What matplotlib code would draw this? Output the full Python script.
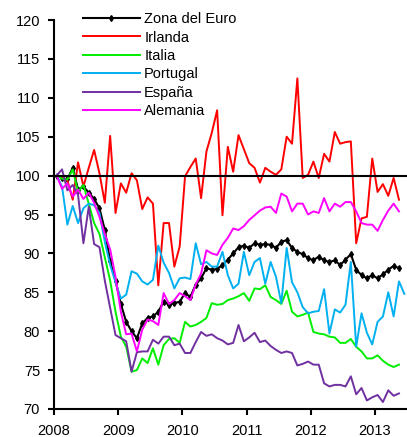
import numpy as np
import matplotlib
matplotlib.use("Agg")
import matplotlib.pyplot as plt

plt.rcParams["font.family"] = ["Liberation Sans", "DejaVu Sans"]

# ============================================================
# DATOS (índice, enero 2008 = 100, mensual)
# ============================================================
zona_euro = [100, 99.7, 99.5, 101, 98.2, 98.6, 97.8, 97.0, 95.8, 93.0,
             89.0, 86.5, 83.5, 81.2, 80.0, 79.1, 81.0, 81.7, 81.9, 82.5,
             83.8, 83.4, 83.6, 83.8, 84.9, 84.4, 86.0, 86.8, 88.1, 87.9,
             88.0, 88.5, 89.2, 90.0, 90.8, 91.0, 90.7, 91.3, 91.1, 91.2,
             91.1, 90.7, 91.5, 91.7, 90.7, 90.2, 89.9, 89.4, 89.1, 89.6,
             89.1, 88.9, 89.1, 88.5, 89.2, 89.9, 87.9, 87.2, 86.8, 87.2,
             86.8, 87.3, 87.9, 88.4, 88.1]

irlanda = [100, 99.7, 99.4, 96.9, 101.7, 98.6, 101.0, 103.3, 100.3, 96.5,
           105.1, 95.2, 99.0, 97.8, 100.3, 99.4, 95.7, 97.2, 96.4, 85.9,
           93.9, 93.9, 88.3, 90.9, 99.9, 101.1, 102.2, 97.1, 103.1, 105.5,
           108.4, 94.9, 103.7, 100.5, 105.2, 103.4, 101.6, 101.0, 99.1, 101.0,
           100.5, 100.1, 100.8, 105.0, 104.1, 112.5, 99.7, 100.1, 101.8, 99.7,
           102.8, 101.8, 105.6, 104.1, 104.3, 104.4, 91.3, 94.5, 94.7, 102.2,
           97.9, 98.9, 97.4, 99.7, 96.9]

italia = [100, 99.6, 99.5, 100.8, 97.9, 98.8, 96.4, 93.9, 92.5, 89.5,
          86.5, 82.5, 79.3, 78.0, 74.8, 75.0, 76.5, 75.9, 77.8, 75.7,
          78.2, 79.0, 79.1, 78.5, 81.2, 80.6, 80.8, 81.2, 81.7, 83.6,
          83.4, 83.5, 84.0, 84.2, 84.5, 84.9, 83.9, 85.5, 85.4, 85.9,
          84.4, 84.0, 83.5, 85.2, 82.5, 81.9, 82.1, 82.4, 79.9, 79.7,
          79.6, 79.3, 79.2, 78.5, 78.5, 79.0, 78.0, 77.4, 76.5, 76.5,
          76.9, 76.2, 75.7, 75.4, 75.7]

portugal = [100, 98.6, 93.7, 96.1, 93.9, 95.8, 96.4, 96.2, 95.2, 91.5,
            88.5, 86.3, 84.2, 84.7, 87.7, 87.4, 86.4, 86.0, 86.6, 91.0,
            88.8, 87.5, 85.5, 86.8, 86.9, 86.7, 91.3, 88.6, 88.9, 88.3,
            88.3, 90.2, 87.2, 85.5, 86.1, 90.2, 87.2, 88.9, 89.4, 86.1,
            88.9, 87.0, 83.6, 90.7, 86.3, 85.0, 83.1, 82.3, 82.5, 82.6,
            85.4, 79.7, 82.8, 82.4, 83.4, 88.9, 78.0, 82.3, 79.8, 78.3,
            81.2, 81.9, 85.0, 81.9, 86.4, 84.8]

espana = [100, 100.8, 98.1, 98.8, 97.5, 91.3, 96.0, 91.2, 90.8, 86.5,
          83.0, 79.5, 79.1, 78.7, 74.8, 77.3, 77.4, 77.4, 78.9, 78.4,
          79.3, 79.3, 78.2, 78.4, 77.2, 77.2, 78.6, 79.9, 79.4, 79.6,
          79.1, 78.8, 78.3, 78.5, 80.8, 78.7, 79.2, 79.8, 78.6, 78.8,
          78.1, 77.6, 77.2, 77.4, 77.2, 75.6, 75.8, 76.1, 75.7, 75.7,
          73.3, 72.9, 73.1, 73.1, 72.9, 74.2, 71.9, 72.7, 71.1, 71.5,
          71.8, 70.9, 72.4, 71.7, 72.0]

alemania = [100, 98.3, 99.0, 97.3, 98.2, 97.0, 97.8, 96.5, 94.7, 92.5,
            90.5, 87.0, 82.5, 79.6, 79.7, 77.4, 80.2, 81.5, 81.3, 80.8,
            84.9, 83.5, 84.0, 84.9, 84.5, 84.0, 86.0, 87.4, 90.4, 90.0,
            89.8, 91.1, 92.0, 93.2, 93.0, 93.5, 94.3, 94.9, 95.5, 95.9,
            96.0, 95.2, 97.7, 97.3, 95.4, 96.4, 96.4, 95.0, 95.4, 95.2,
            97.1, 95.4, 96.4, 96.0, 96.6, 96.6, 95.4, 93.9, 93.7, 93.7,
            92.9, 94.3, 95.5, 96.4, 95.4]

series = [
    ("Zona del Euro", zona_euro, "black"),
    ("Irlanda", irlanda, "#FF0000"),
    ("Italia", italia, "#00EE00"),
    ("Portugal", portugal, "#00B0F0"),
    ("España", espana, "#7030A0"),
    ("Alemania", alemania, "#FF00FF"),
]

anios = [2008, 2009, 2010, 2011, 2012, 2013]


def eje_x(valores):
    # punto a mitad de cada mes
    return 2008 + (np.arange(len(valores)) + 0.5) / 12


fig = plt.figure(figsize=(4.07, 4.37), dpi=100)
ax = fig.add_axes([54 / 407, 1 - 409 / 437, 1 - 54 / 407, 389 / 437])

for nombre, valores, color in series:
    if nombre == "Zona del Euro":
        ax.plot(eje_x(valores), valores, color=color, lw=1.5,
                marker="d", ms=3, label=nombre, zorder=2)
    else:
        ax.plot(eje_x(valores), valores, color=color, lw=1.4,
                label=nombre, zorder=2)

ax.axhline(100, color="black", lw=1.5, zorder=5)

ax.set_xlim(2008, 2013.5)
ax.set_ylim(70, 120)
ax.set_xticks(anios)
ax.set_xticklabels([str(a) for a in anios])
ax.set_yticks(np.arange(70, 121, 5))

for lado in ["top", "right"]:
    ax.spines[lado].set_visible(False)
for lado in ["left", "bottom"]:
    ax.spines[lado].set_linewidth(1.5)

ax.tick_params(axis="both", direction="out", length=4, width=1.5,
               labelsize=10.5, color="black")
ax.tick_params(axis="y", pad=6)
ax.tick_params(axis="x", pad=7)

ax.legend(loc="upper left", bbox_to_anchor=(0.082, 1.02), frameon=False,
          fontsize=10.5, handlelength=3.9, handletextpad=0.3,
          labelspacing=0.3, borderpad=0, borderaxespad=0)

fig.savefig("out.png", dpi=100)
